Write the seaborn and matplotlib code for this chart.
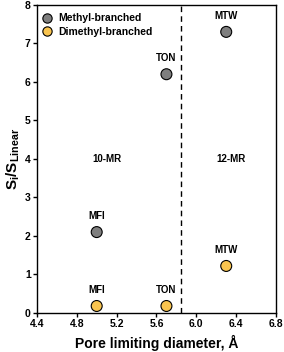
import matplotlib
matplotlib.use("Agg")
import matplotlib.pyplot as plt
import seaborn as sns
import pandas as pd

sns.set_style("ticks")
plt.rcParams['font.family'] = ['Liberation Sans', 'DejaVu Sans']
plt.rcParams['font.weight'] = 'bold'
plt.rcParams['text.color'] = 'black'
plt.rcParams['axes.labelcolor'] = 'black'
plt.rcParams['xtick.color'] = 'black'
plt.rcParams['ytick.color'] = 'black'
plt.rcParams['mathtext.fontset'] = 'custom'
plt.rcParams['mathtext.rm'] = 'Liberation Sans:bold'
plt.rcParams['mathtext.bf'] = 'Liberation Sans:bold'
plt.rcParams['mathtext.it'] = 'Liberation Sans:bold'

frameworks_methyl = ["MFI", "TON", "MTW"]
pore_methyl = [5.0, 5.7, 6.3]
sel_methyl = [2.1, 6.2, 7.3]

frameworks_dimethyl = ["MFI", "TON", "MTW"]
pore_dimethyl = [5.0, 5.7, 6.3]
sel_dimethyl = [0.18, 0.18, 1.22]

series_names = ["Methyl-branched", "Dimethyl-branched"]
colors = ["#7f7f7f", "#f9c44f"]
divider_x = 5.85
region_labels = ["10-MR", "12-MR"]
region_x = [5.1, 6.35]
region_y = [4.0, 4.0]

df = pd.DataFrame({
    "pore": pore_methyl + pore_dimethyl,
    "sel": sel_methyl + sel_dimethyl,
    "fw": frameworks_methyl + frameworks_dimethyl,
    "series": [series_names[0]] * len(pore_methyl) + [series_names[1]] * len(pore_dimethyl),
})

fig = plt.figure(figsize=(2.84, 3.52), dpi=100)
ax = fig.add_axes([0.130, 0.111, 0.842, 0.875])

sns.scatterplot(data=df, x="pore", y="sel", hue="series", palette=colors,
                s=62, edgecolor="black", linewidth=0.8, ax=ax, zorder=3)

for _, r in df.iterrows():
    ax.text(r["pore"], r["sel"] + 0.28, r["fw"], ha="center", va="bottom",
            fontsize=7, fontweight="bold")

ax.axvline(divider_x, color="black", linestyle=(0, (4, 3)), linewidth=1.0)
for lbl, x, y in zip(region_labels, region_x, region_y):
    ax.text(x, y, lbl, ha="center", va="center", fontsize=7, fontweight="bold")

ax.set_xlim(4.4, 6.8)
ax.set_ylim(0, 8)
ax.set_xticks([4.4, 4.8, 5.2, 5.6, 6.0, 6.4, 6.8])
ax.set_xticklabels(["4.4", "4.8", "5.2", "5.6", "6.0", "6.4", "6.8"])
ax.set_yticks(range(0, 9))
ax.tick_params(axis="both", direction="out", length=3, width=1, labelsize=7.5, pad=1.5, colors="black")
for lab in ax.get_xticklabels() + ax.get_yticklabels():
    lab.set_fontweight("bold")
for sp in ax.spines.values():
    sp.set_visible(True)
    sp.set_color("black")
    sp.set_linewidth(1.0)

ax.set_xlabel("Pore limiting diameter, Å", fontsize=10, fontweight="bold", labelpad=4)
ax.set_ylabel(r"S$_{i}$/S$_{\mathrm{Linear}}$", fontsize=11, fontweight="bold", labelpad=2)

leg = ax.legend(loc="upper left", bbox_to_anchor=(0.0, 0.99), frameon=False, fontsize=7.5,
                handletextpad=0.5, borderaxespad=0.2, borderpad=0.3, labelspacing=0.35,
                handlelength=1.0, markerscale=0.85)
for t in leg.get_texts():
    t.set_fontweight("bold")
    t.set_color("black")

fig.savefig("out.png", dpi=100)
